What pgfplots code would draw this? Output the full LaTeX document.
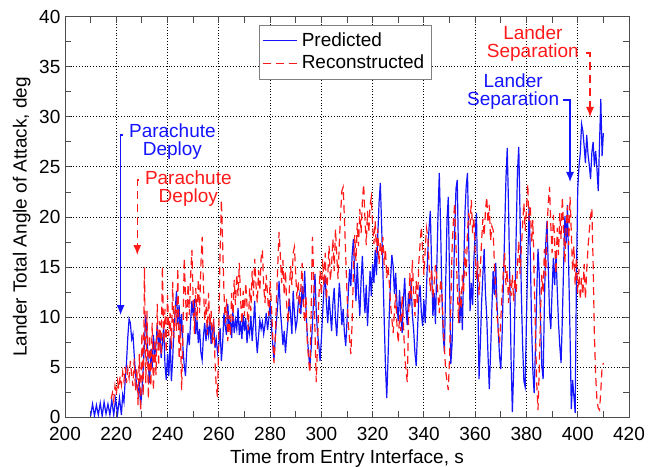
\documentclass[border=0pt]{standalone}
\usepackage{fontspec}
\setmainfont{Liberation Sans}
\usepackage{pgfplots}
\pgfplotsset{compat=1.18}
\usetikzlibrary{arrows.meta}

\definecolor{predblue}{RGB}{20,20,255}
\definecolor{recred}{RGB}{255,25,25}

\begin{document}
\begin{tikzpicture}
\begin{axis}[
  scale only axis, width=282pt, height=200pt,
  xmin=200, xmax=420, ymin=0, ymax=40,
  xtick={200,220,...,420}, ytick={0,5,...,40},
  minor x tick num=1, minor y tick num=1,
  tick align=inside, tick pos=both,
  major tick length=3pt, minor tick length=3pt,
  grid=major, major grid style={black, densely dotted, line width=0.5pt},
  axis line style={black!70, line width=0.5pt},
  every tick/.style={black!70, line width=0.5pt},
  /pgf/number format/assume math mode=true,
  ticklabel style={font=\fontsize{9.5}{11}\selectfont},
  yticklabel style={xshift=1.2pt},
  xticklabel style={yshift=-1.5pt},
  label style={font=\fontsize{9.5}{11}\selectfont},
  xlabel={Time from Entry Interface, s},
  ylabel={Lander Total Angle of Attack, deg},
  xlabel style={yshift=2.5pt},
  ylabel style={yshift=-2.5pt},
  legend style={at={(rel axis cs:0.344,0.98)}, anchor=north west,
    draw=black!50, line width=0.4pt, font=\fontsize{9.5}{11}\selectfont,
    cells={anchor=west}, inner sep=1.5pt, row sep=-1pt},
]
% predicted
\addplot[predblue, line width=0.6pt] coordinates {
(210,0.1) (210.75,1.3) (211.5,0.1) (212.25,1.2) (213,0.2) (213.75,1.4) (214.5,0.1) (215.25,1.5)
(216,0.3) (216.75,1.3) (217.5,0.2) (218.25,1.7) (219,0.2) (219.75,1.8) (220.5,0.3) (221.25,1.9)
(222,0.2) (222.5,2.2) (223,1.5) (223.5,3.8) (224,5.5) (224.5,8) (225,9.8) (225.5,9.4)
(226,7.8) (226.5,8.3) (227,6.2) (227.5,4.3) (228,3.1) (228.5,2.4) (229,3.2) (229.5,1.2)
(230,2.5) (230.5,4.8) (231,7.5) (231.5,10.2) (232,8.1) (232.5,5.2) (233,3.4) (233.5,6.8)
(234,4.9) (234.5,8.2) (235,6.1) (235.5,7.3) (236,9.2) (236.5,6.8) (237,8.6) (237.5,5.9)
(238,7.4) (238.5,9.1) (239,5.2) (239.5,3.7) (240,6.3) (240.5,4.1) (241,7.9) (241.5,3.6)
(242,5.8) (242.5,8.9) (243,10.7) (243.5,12.6) (244,9.3) (244.5,11.2) (245,8.1) (245.5,10.3)
(246,6.9) (246.5,5.2) (247,4.1) (247.5,6.8) (248,8.4) (248.5,7.2) (249,9.6) (249.5,11.6)
(250,10.1) (250.5,11.8) (251,8.3) (251.5,9.7) (252,7.4) (252.5,8.8) (253,6.5) (253.5,5.7)
(254,8.1) (254.5,9.4) (255,7.6) (255.5,9.3) (256,8.2) (256.5,9.6) (257,7.3) (257.5,8.7)
(258,9.4) (258.5,6.9) (259,7.8) (259.5,6.4) (260,7.2) (260.5,8.9) (261,5.6) (261.5,7.4)
(262,10.4) (262.5,9.1) (263,8.2) (263.5,11.3) (264,8.7) (264.5,9.8) (265,7.9) (265.5,10.6)
(266,8.4) (266.5,9.7) (267,8.8) (267.5,10.9) (268,8.2) (268.5,9.6) (269,7.8) (269.5,10.2)
(270,8.6) (270.5,9.9) (271,7.4) (271.5,9.1) (272,8.3) (272.5,10.1) (273,7.6) (273.5,9.4)
(274,11.6) (274.5,8.2) (275,6.4) (275.5,8.1) (276,9.7) (276.5,8.8) (277,9.5) (277.5,8.3)
(278,9.2) (278.5,10.4) (279,8.7) (279.5,9.8) (280,11.5) (280.5,9.2) (281,7.4) (281.5,5.7)
(282,7.8) (282.5,9.6) (283,11.4) (283.5,13.6) (284,10.7) (284.5,9.1) (285,7.2) (285.5,8.6)
(286,6.4) (286.5,8.2) (287,9.7) (287.5,11.8) (288,10.2) (288.5,8.3) (289,12.6) (289.5,10.4)
(290,8.8) (290.5,9.6) (291,11.4) (291.5,12.2) (292,10.3) (292.5,13.1) (293,11.2) (293.5,14.6)
(294,10.8) (294.5,8.1) (295,6.4) (295.5,4.9) (296,6.8) (296.5,9.2) (297,11.8) (297.5,14.3)
(298,10.6) (298.5,8.4) (299,7.2) (299.5,5.6) (300,7.8) (300.5,10.4) (301,12.8) (301.5,14.1)
(302,11.2) (302.5,9.4) (303,12.1) (303.5,10.3) (304,8.6) (304.5,11.4) (305,12.9) (305.5,9.8)
(306,8.1) (306.5,10.7) (307,13.4) (307.5,11.6) (308,9.2) (308.5,10.8) (309,8.4) (309.5,7.1)
(310,9.6) (310.5,12.4) (311,14.8) (311.5,13.1) (312,16.2) (312.5,17.8) (313,14.2) (313.5,11.6)
(314,15.4) (314.5,12.3) (315,10.1) (315.5,13.7) (316,16.1) (316.5,12.8) (317,10.4) (317.5,13.2)
(318,9.1) (318.5,11.8) (319,14.6) (319.5,12.1) (320,15.3) (320.5,13.4) (321,16.7) (321.5,14.2)
(322,18.1) (322.5,21.4) (323,23.4) (323.5,19.2) (324,14.6) (324.5,9.8) (325,5.1) (325.5,1.9)
(326,5.8) (326.5,10.4) (327,13.8) (327.5,16.2) (328,15.1) (328.5,12.3) (329,14.4) (329.5,11.2)
(330,9.6) (330.5,12.7) (331,10.1) (331.5,8.4) (332,11.6) (332.5,13.9) (333,10.8) (333.5,9.2)
(334,12.4) (334.5,11.1) (335,13.6) (335.5,10.2) (336,8.7) (336.5,6.4) (337,5.1) (337.5,8.6)
(338,11.9) (338.5,13.2) (339,10.4) (339.5,9.1) (340,11.7) (340.5,9.4) (341,12.8) (341.5,16.4)
(342,18.9) (342.5,20.6) (343,15.2) (343.5,10.1) (344,12.4) (344.5,9.3) (345,14.7) (345.5,20.2)
(346,24.4) (346.5,19.1) (347,12.4) (347.5,8.2) (348,6.5) (348.5,13.4) (349,19.6) (349.5,22.0)
(350,13.8) (350.5,5.3) (351,7.4) (351.5,12.6) (352,18.4) (352.5,22.8) (353,23.7) (353.5,16.2)
(354,9.4) (354.5,12.1) (355,8.7) (355.5,14.6) (356,20.3) (356.5,23.1) (357,24.4) (357.5,17.2)
(358,10.6) (358.5,13.4) (359,11.2) (359.5,15.8) (360,18.2) (360.5,20.4) (361,12.6) (361.5,3.8)
(362,7.2) (362.5,11.4) (363,14.2) (363.5,16.8) (364,12.4) (364.5,10.1) (365,6.2) (365.5,2.8)
(366,6.4) (366.5,10.8) (367,14.6) (367.5,12.2) (368,15.4) (368.5,11.3) (369,8.6) (369.5,6.1)
(370,4.8) (370.5,8.2) (371,13.4) (371.5,18.6) (372,23.8) (372.5,26.9) (373,21.2) (373.5,13.6)
(374,5.8) (374.5,0.5) (375,4.6) (375.5,11.2) (376,18.4) (376.5,24.6) (377,27.0) (377.5,20.1)
(378,12.4) (378.5,7.2) (379,3.6) (379.5,3.0) (380,9.8) (380.5,15.6) (381,21.0) (381.5,16.4)
(382,9.2) (382.5,4.6) (383,2.4) (383.5,6.8) (384,12.4) (384.5,16.8) (385,14.2) (385.5,9.6)
(386,5.1) (386.5,3.8) (387,11.4) (387.5,17.2) (388,19.6) (388.5,15.1) (389,10.4) (389.5,8.8)
(390,12.6) (390.5,15.9) (391,13.2) (391.5,16.4) (392,12.8) (392.5,9.4) (393,7.1) (393.5,5.4)
(394,9.8) (394.5,15.2) (395,20.1) (395.5,17.4) (396,21.2) (396.5,14.6) (397,8.2) (397.5,0.8)
(398,3.7) (398.5,2.1) (399,0.4) (399.5,14.1) (400,22.8) (400.5,25.1) (401,26.4) (401.5,29.3)
(402,28.6) (402.5,27.1) (403,25.4) (403.5,28.2) (404,26.3) (404.5,25.2) (405,23.8) (405.5,26.4)
(406,27.5) (406.5,25.1) (407,26.6) (407.5,24.8) (408,22.6) (408.5,27.4) (409,31.8) (409.5,26.1)
(410,28.4)
};
\addlegendentry{Predicted}
% reconstructed
\addplot[recred, line width=0.6pt, dash pattern=on 4pt off 2.5pt] coordinates {
(218,1.8) (218.5,2.4) (219,1.6) (219.5,3.1) (220,2.2) (220.5,3.6) (221,2.8) (221.5,4.1)
(222,3.2) (222.5,4.5) (223,3.6) (223.5,5.0) (224,3.4) (224.5,4.8) (225,3.9) (225.5,5.6)
(226,4.2) (226.5,3.1) (227,5.8) (227.5,2.6) (228,4.9) (228.5,1.2) (229,6.3) (229.5,0.6)
(230,8.4) (230.5,2.1) (231,15.0) (231.5,3.4) (232,10.6) (232.5,1.8) (233,8.2) (233.5,3.1)
(234,9.4) (234.5,2.6) (235,7.8) (235.5,4.2) (236,11.3) (236.5,5.1) (237,9.6) (237.5,6.2)
(238,15.1) (238.5,7.3) (239,10.8) (239.5,6.4) (240,12.2) (240.5,8.1) (241,10.4) (241.5,6.8)
(242,13.5) (242.5,7.9) (243,11.2) (243.5,8.6) (244,14.9) (244.5,5.8) (245,9.3) (245.5,2.7)
(246,8.2) (246.5,15.9) (247,12.1) (247.5,9.4) (248,13.3) (248.5,10.2) (249,14.1) (249.5,16.7)
(250,11.6) (250.5,8.3) (251,12.9) (251.5,9.7) (252,13.8) (252.5,10.4) (253,15.2) (253.5,18.0)
(254,13.1) (254.5,9.6) (255,11.8) (255.5,8.2) (256,12.4) (256.5,9.1) (257,10.6) (257.5,7.3)
(258,9.8) (258.5,5.6) (259,3.0) (259.5,2.0) (260,8.7) (260.5,16.4) (261,21.7) (261.5,17.2)
(262,12.6) (262.5,9.4) (263,11.8) (263.5,7.6) (264,10.2) (264.5,8.1) (265,12.4) (265.5,9.6)
(266,13.7) (266.5,11.2) (267,14.3) (267.5,12.1) (268,15.4) (268.5,11.8) (269,9.3) (269.5,12.6)
(270,10.1) (270.5,13.4) (271,11.2) (271.5,8.7) (272,12.9) (272.5,10.6) (273,14.6) (273.5,12.1)
(274,15.8) (274.5,13.2) (275,11.4) (275.5,14.7) (276,12.6) (276.5,15.9) (277,16.7) (277.5,13.1)
(278,11.4) (278.5,14.2) (279,12.3) (279.5,10.1) (280,13.6) (280.5,11.3) (281,8.2) (281.5,5.4)
(282,7.6) (282.5,11.8) (283,15.2) (283.5,18.5) (284,16.1) (284.5,13.4) (285,15.7) (285.5,12.2)
(286,14.6) (286.5,11.1) (287,9.4) (287.5,12.8) (288,15.1) (288.5,13.2) (289,16.4) (289.5,17.0)
(290,14.2) (290.5,11.8) (291,13.6) (291.5,10.4) (292,12.9) (292.5,15.4) (293,11.2) (293.5,9.4)
(294,12.1) (294.5,7.6) (295,5.8) (295.5,4.4) (296,10.2) (296.5,18.0) (297,14.1) (297.5,8.6)
(298,3.5) (298.5,7.2) (299,11.8) (299.5,14.6) (300,12.2) (300.5,15.8) (301,13.1) (301.5,16.4)
(302,11.7) (302.5,14.2) (303,17.1) (303.5,13.6) (304,15.3) (304.5,17.8) (305,14.6) (305.5,18.8)
(306,16.2) (306.5,13.8) (307,17.4) (307.5,20.3) (308,22.6) (308.5,23.0) (309,19.8) (309.5,16.1)
(310,12.4) (310.5,9.3) (311,7.8) (311.5,6.3) (312,9.4) (312.5,14.6) (313,18.2) (313.5,15.6)
(314,19.4) (314.5,17.1) (315,20.8) (315.5,18.4) (316,21.6) (316.5,23.3) (317,19.8) (317.5,17.2)
(318,20.6) (318.5,18.4) (319,21.2) (319.5,22.0) (320,19.1) (320.5,17.3) (321,19.6) (321.5,16.4)
(322,18.8) (322.5,15.3) (323,17.6) (323.5,16.1) (324,18.0) (324.5,15.2) (325,16.8) (325.5,13.9)
(326,15.1) (326.5,13.4) (327,11.2) (327.5,9.8) (328,8.4) (328.5,10.6) (329,12.3) (329.5,9.1)
(330,7.4) (330.5,10.2) (331,8.6) (331.5,12.1) (332,9.4) (332.5,6.2) (333,4.7) (333.5,3.5)
(334,9.6) (334.5,14.4) (335,11.8) (335.5,15.7) (336,12.4) (336.5,10.1) (337,13.6) (337.5,11.2)
(338,15.4) (338.5,17.3) (339,19.0) (339.5,16.6) (340,14.2) (340.5,16.8) (341,18.9) (341.5,18.0)
(342,15.3) (342.5,12.6) (343,14.8) (343.5,11.9) (344,13.4) (344.5,15.2) (345,14.0) (345.5,12.1)
(346,10.4) (346.5,13.8) (347,12.7) (347.5,9.2) (348,6.8) (348.5,4.6) (349,3.6) (349.5,2.7)
(350,5.9) (350.5,11.4) (351,16.8) (351.5,19.6) (352,21.4) (352.5,17.2) (353,13.1) (353.5,9.4)
(354,12.6) (354.5,10.8) (355,14.2) (355.5,12.4) (356,16.8) (356.5,14.1) (357,18.6) (357.5,20.4)
(358,19.2) (358.5,21.7) (359,18.4) (359.5,20.0) (360,16.3) (360.5,13.8) (361,15.6) (361.5,12.2)
(362,14.8) (362.5,17.6) (363,19.8) (363.5,18.1) (364,20.6) (364.5,22.0) (365,19.4) (365.5,21.2)
(366,17.6) (366.5,19.1) (367,18.7) (367.5,15.2) (368,12.6) (368.5,10.4) (369,8.6) (369.5,7.4)
(370,9.8) (370.5,12.4) (371,14.6) (371.5,16.4) (372,13.2) (372.5,14.7) (373,11.4) (373.5,13.8)
(374,12.1) (374.5,14.2) (375,11.6) (375.5,13.9) (376,12.4) (376.5,15.1) (377,17.6) (377.5,14.3)
(378,16.8) (378.5,19.2) (379,21.4) (379.5,18.6) (380,20.8) (380.5,23.3) (381,19.6) (381.5,21.2)
(382,17.4) (382.5,19.7) (383,14.2) (383.5,8.6) (384,3.4) (384.5,0.7) (385,4.8) (385.5,10.6)
(386,14.2) (386.5,12.4) (387,16.8) (387.5,14.1) (388,18.6) (388.5,21.4) (389,23.0) (389.5,19.2)
(390,16.4) (390.5,20.2) (391,17.6) (391.5,14.3) (392,18.9) (392.5,16.2) (393,20.4) (393.5,17.8)
(394,22.0) (394.5,18.6) (395,15.4) (395.5,19.3) (396,21.1) (396.5,17.2) (397,22.0) (397.5,18.4)
(398,14.6) (398.5,17.1) (399,13.2) (399.5,16.0) (400,12.4) (400.5,14.8) (401,11.7) (401.5,13.9)
(402,12.2) (402.5,15.3) (403,11.8) (403.5,14.6) (404,16.9) (404.5,18.6) (405,20.1) (405.5,20.9)
(406,15.4) (406.5,8.2) (407,4.1) (407.5,1.7) (408,0.9) (408.5,0.7) (409,2.6) (409.5,5.0)
(410,5.4)
};
\addlegendentry{Reconstructed}

% event annotations
\begin{scope}[font=\fontsize{9.5}{9}\selectfont]
\node[predblue, align=center] at (axis cs:241.9,27.55) {Parachute\\Deploy};
\draw[predblue, line width=0.6pt, -{Latex[length=5pt,width=4pt]}]
  (axis cs:222.8,28.2) -- (axis cs:221.7,28.2) -- (axis cs:221.7,10.2);
\node[recred, align=center] at (axis cs:248.1,22.85) {Parachute\\Deploy};
\draw[recred, line width=0.6pt, dash pattern=on 4pt off 2.5pt, -{Latex[length=5pt,width=4pt]}]
  (axis cs:229.0,23.7) -- (axis cs:228.2,23.7) -- (axis cs:228.2,16.2);
\node[predblue, align=center] at (axis cs:374.8,32.55) {Lander\\Separation};
\draw[predblue, line width=0.6pt, -{Latex[length=5pt,width=4pt]}]
  (axis cs:394.2,31.7) -- (axis cs:397.0,31.7) -- (axis cs:397.0,23.5);
\node[recred, align=center] at (axis cs:382.5,37.35) {Lander\\Separation};
\draw[recred, line width=0.6pt, dash pattern=on 4pt off 2.5pt, -{Latex[length=5pt,width=4pt]}]
  (axis cs:403.2,36.4) -- (axis cs:404.8,36.4) -- (axis cs:404.8,30.0);
\end{scope}
\end{axis}
\pgfresetboundingbox
\path[use as bounding box] (-32.5pt,-24.5pt) rectangle (293.5pt,208.5pt);
\end{tikzpicture}
\end{document}
